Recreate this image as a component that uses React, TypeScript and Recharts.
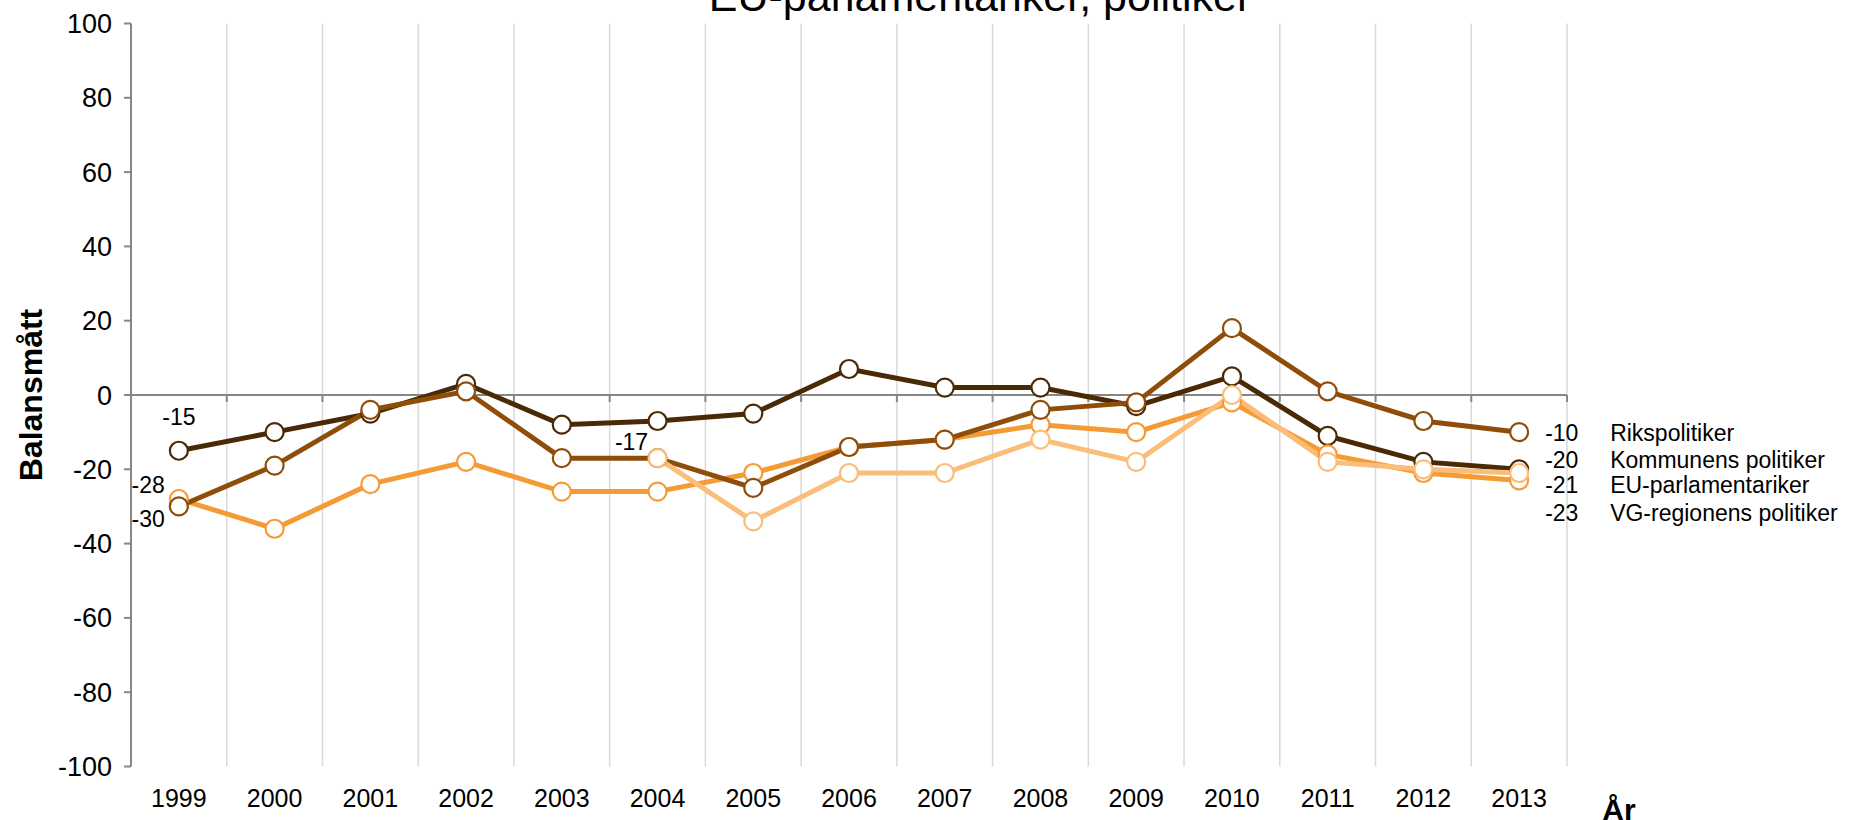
import React from 'react';
import { CartesianGrid, LabelList, Line, LineChart, ReferenceLine, XAxis, YAxis } from 'recharts';

// Balansmått per år, 1999-2013
const years = ['1999', '2000', '2001', '2002', '2003', '2004', '2005', '2006', '2007', '2008', '2009', '2010', '2011', '2012', '2013'];
const riksPolitiker = [-30, -19, -4, 1, -17, -17, -25, -14, -12, -4, -2, 18, 1, -7, -10];
const kommunensPolitiker = [-15, -10, -5, 3, -8, -7, -5, 7, 2, 2, -3, 5, -11, -18, -20];
const euParlamentariker = [null, null, null, null, null, -17, -34, -21, -21, -12, -18, 0, -18, -20, -21];
const vgRegionensPolitiker = [-28, -36, -24, -18, -26, -26, -21, -14, -12, -8, -10, -2, -16, -21, -23];
const yTicks = [-100, -80, -60, -40, -20, 0, 20, 40, 60, 80, 100];

const chartData = years.map((year, i) => ({
  year,
  riks: riksPolitiker[i],
  kommun: kommunensPolitiker[i],
  eu: euParlamentariker[i],
  vg: vgRegionensPolitiker[i],
}));

const FONT = '"Liberation Sans", Arial, sans-serif';
const AXIS_GRAY = '#868686';

// label placement per series: first shown value and end value + legend name
const series = [
  { key: 'kommun', name: 'Kommunens politiker', color: '#4a2906', firstIndex: 0, first: { dx: 0, dy: -34, anchor: 'middle' }, endDy: -9 },
  { key: 'vg', name: 'VG-regionens politiker', color: '#f59b36', firstIndex: 0, first: { dx: -14, dy: -14, anchor: 'end' }, endDy: 33 },
  { key: 'riks', name: 'Rikspolitiker', color: '#8f4d0a', firstIndex: 0, first: { dx: -14, dy: 12, anchor: 'end' }, endDy: 1 },
  { key: 'eu', name: 'EU-parlamentariker', color: '#fabd7a', firstIndex: 5, first: { dx: -26, dy: -16, anchor: 'middle' }, endDy: 12 },
];

const makeLabel = (s: any) => (props: any) => {
  const { x, y, index, value } = props;
  if (value == null || y == null) return null;
  if (index === s.firstIndex) {
    return (
      <text x={x + s.first.dx} y={y + s.first.dy} dy='0.35em' textAnchor={s.first.anchor} fontSize={23} fontFamily={FONT} fill='#000'>
        {value}
      </text>
    );
  }
  if (index === years.length - 1) {
    return (
      <g>
        <text x={x + 26} y={y + s.endDy} dy='0.35em' fontSize={23} fontFamily={FONT} fill='#000'>
          {value}
        </text>
        <text x={x + 91} y={y + s.endDy} dy='0.35em' fontSize={23} fontFamily={FONT} fill='#000'>
          {s.name}
        </text>
      </g>
    );
  }
  return null;
};

// x axis drawn through zero with tick marks at the category boundaries
const ZeroAxis = (props: any) => {
  const { x1, x2, y1 } = props;
  if (x1 == null || x2 == null || y1 == null) return null;
  const step = (x2 - x1) / years.length;
  return (
    <g>
      <line x1={x1} x2={x2} y1={y1} y2={y1} stroke={AXIS_GRAY} strokeWidth={2} />
      {years.map((_, i) => (
        <line key={i} x1={x1 + (i + 1) * step} x2={x1 + (i + 1) * step} y1={y1} y2={y1 + 7} stroke={AXIS_GRAY} strokeWidth={2} />
      ))}
    </g>
  );
};

const YTitle = (props: any) => {
  const cy = props.viewBox ? props.viewBox.y + props.viewBox.height / 2 : 395;
  return (
    <text x={31} y={cy} transform={`rotate(-90, 31, ${cy})`} dy='0.35em' textAnchor='middle' fontSize={32} fontWeight='bold' fontFamily={FONT} fill='#000'>
      Balansmått
    </text>
  );
};

const XTitle = (props: any) => {
  const vb = props.viewBox || { x: 131, width: 1436 };
  return (
    <text x={vb.x + vb.width + 52} y={820} textAnchor='middle' fontSize={30} fontWeight='bold' fontFamily={FONT} fill='#000'>
      År
    </text>
  );
};

export default function App() {
  return (
    <div style={{ position: 'absolute', left: 0, top: 0, width: 1854, height: 820, background: '#fff', fontFamily: FONT }}>
      <LineChart width={1854} height={820} data={chartData} margin={{ top: 23.5, right: 287, bottom: 0, left: 0 }}>
        <text x={980} y={11} textAnchor='middle' fontSize={43} fontFamily={FONT} fill='#000'>
          EU-parlamentariker, politiker
        </text>
        <CartesianGrid
          horizontal={false}
          stroke='#d9d9d9'
          strokeWidth={1.5}
          verticalCoordinatesGenerator={({ offset }: any) =>
            years.map((_, i) => offset.left + ((i + 1) * offset.width) / years.length)
          }
        />
        <XAxis
          dataKey='year'
          padding={{ left: 47.87, right: 47.87 }}
          axisLine={false}
          tickLine={false}
          tickMargin={17}
          height={53.5}
          interval={0}
          tick={{ fill: '#000', fontSize: 25, fontFamily: FONT }}
          label={<XTitle />}
        />
        <YAxis
          domain={[-100, 100]}
          ticks={yTicks}
          interval={0}
          width={131}
          tickSize={7}
          tickMargin={12}
          axisLine={{ stroke: AXIS_GRAY, strokeWidth: 2 }}
          tickLine={{ stroke: AXIS_GRAY, strokeWidth: 2 }}
          tick={{ fill: '#000', fontSize: 27, fontFamily: FONT }}
          label={<YTitle />}
        />
        <ReferenceLine y={0} shape={<ZeroAxis />} />
        {series.map((s) => (
          <Line
            key={s.key}
            dataKey={s.key}
            name={s.name}
            stroke={s.color}
            strokeWidth={5}
            dot={{ r: 9, fill: '#fff', stroke: s.color, strokeWidth: 2.2 }}
            activeDot={false}
            isAnimationActive={false}
          >
            <LabelList dataKey={s.key} content={makeLabel(s)} />
          </Line>
        ))}
      </LineChart>
    </div>
  );
}
